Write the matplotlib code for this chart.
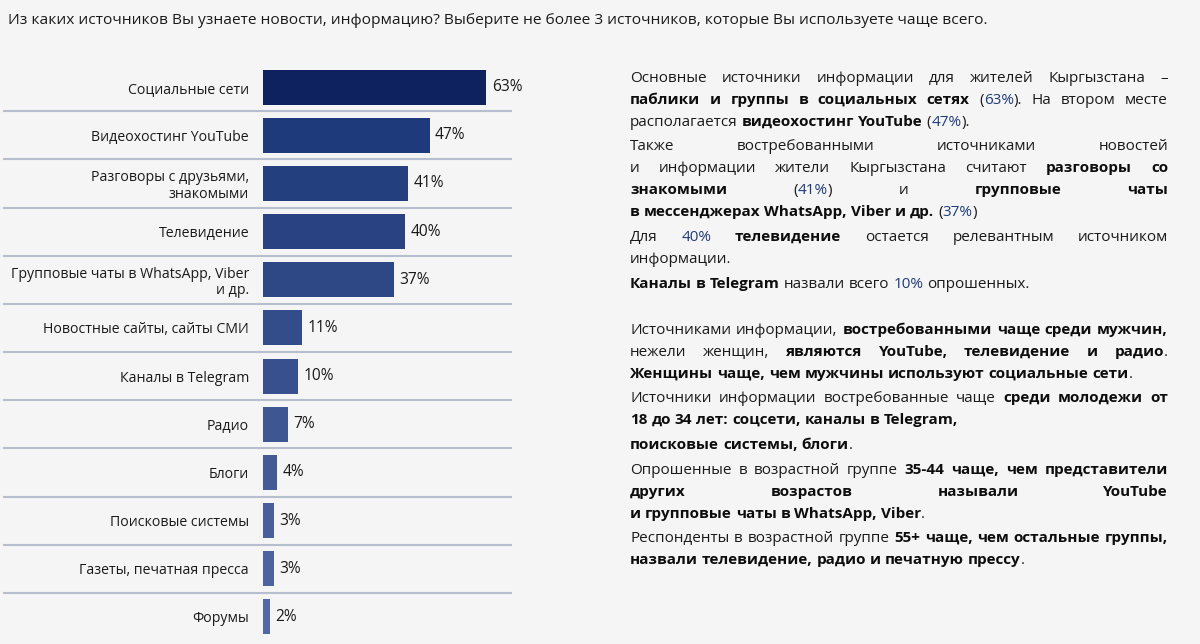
import matplotlib.pyplot as plt
import matplotlib.colors as mcolors
import numpy as np

# Chart data
categories = [
    "Социальные сети", "Видеохостинг YouTube", "Разговоры с друзьями,\nзнакомыми",
    "Телевидение", "Групповые чаты в WhatsApp, Viber\nи др.", "Новостные сайты, сайты СМИ",
    "Каналы в Telegram", "Радио", "Блоги", "Поисковые системы",
    "Газеты, печатная пресса", "Форумы",
]
values = [63, 47, 41, 40, 37, 11, 10, 7, 4, 3, 3, 2]

title = ("Из каких источников Вы узнаете новости, информацию? "
         "Выберите не более 3 источников, которые Вы используете чаще всего.")

# Commentary text: *bold*, #blue#; paragraphs of lines, None = section break
paragraphs = [
    ["Основные источники информации для жителей Кыргызстана –",
     "*паблики и группы в социальных сетях* (#63%#). На втором месте",
     "располагается *видеохостинг YouTube* (#47%#)."],
    ["Также востребованными источниками новостей",
     "и информации жители Кыргызстана считают *разговоры со*",
     "*знакомыми* (#41%#) и *групповые чаты*",
     "*в мессенджерах WhatsApp, Viber и др.* (#37%#)"],
    ["Для #40%# *телевидение* остается релевантным источником",
     "информации."],
    ["*Каналы в Telegram* назвали всего #10%# опрошенных."],
    None,
    ["Источниками информации, *востребованными чаще среди мужчин,*",
     "нежели женщин, *являются YouTube, телевидение и радио*.",
     "*Женщины чаще, чем мужчины используют социальные сети*."],
    ["Источники информации востребованные чаще *среди молодежи от*",
     "*18 до 34 лет: соцсети, каналы в Telegram,*"],
    ["*поисковые системы, блоги*."],
    ["Опрошенные в возрастной группе *35-44 чаще, чем представители*",
     "*других возрастов называли YouTube*",
     "*и групповые чаты в WhatsApp, Viber*."],
    ["Респонденты в возрастной группе *55+ чаще, чем остальные группы,*",
     "*назвали телевидение, радио и печатную прессу*."],
]

FONT = ["Open Sans", "DejaVu Sans"]
plt.rcParams["font.family"] = FONT
BG = "#f5f5f5"
TXT = "#1a1a1a"
NAVY = "#1f3a7a"

W, H = 1200, 644
fig = plt.figure(figsize=(W / 100, H / 100), dpi=100, facecolor=BG)

# Bar chart
ax = fig.add_axes([263 / W, 1 - 641 / H, 248 / W, 578 / H])
ax.set_facecolor(BG)
n = len(values)
y = np.arange(n)
c0 = np.array(mcolors.to_rgb("#1f3a7a"))
c1 = np.array(mcolors.to_rgb("#5268a2"))
bar_colors = ["#0e2260"] + [mcolors.to_hex(c0 + (c1 - c0) * t)
                            for t in np.linspace(0, 1, n - 1)]
bars = ax.barh(y, values, height=0.73, color=bar_colors)
ax.set_xlim(0, 70)
ax.set_ylim(n - 0.5, -0.5)
ax.set_yticks(y, categories, fontsize=10.2, color=TXT, linespacing=1.15)
ax.tick_params(axis="y", length=0, pad=10)
ax.set_xticks([])
for s in ax.spines.values():
    s.set_visible(False)
ax.bar_label(bars, labels=[f"{v}%" for v in values], padding=4,
             fontsize=11.2, color=TXT)
for i in range(n - 1):
    ax.plot([-73, 70], [i + 0.5, i + 0.5], color="#b5bfcf", lw=1.5,
            clip_on=False, zorder=0)

fig.text(8 / W, 1 - 20 / H, title, fontsize=11.15, color=TXT, va="center")

# Justified commentary block
renderer = fig.canvas.get_renderer()
FS = 11.0
X0, X1 = 630, 1168


def parse(line):
    words, cur = [], []
    bold = blue = False
    buf = ""
    for ch in line + " ":
        if ch in "*# ":
            if buf:
                cur.append((buf, bold, blue))
                buf = ""
            if ch == "*":
                bold = not bold
            elif ch == "#":
                blue = not blue
            else:
                if cur:
                    words.append(cur)
                cur = []
        else:
            buf += ch
    return words


def width(txt, bold):
    t = fig.text(0, 0, txt, fontsize=FS, fontweight="bold" if bold else "normal")
    w = t.get_window_extent(renderer).width
    t.remove()
    return w


space = width("x x", False) - width("xx", False)

ypos = 77
for p in paragraphs:
    if p is None:
        ypos += 22
        continue
    for k, line in enumerate(p):
        words = parse(line)
        ws = [[width(r[0], r[1]) for r in w] for w in words]
        tot = sum(sum(w) for w in ws)
        last = k == len(p) - 1
        gap = space if last or len(words) < 2 else (X1 - X0 - tot) / (len(words) - 1)
        x = X0
        for w, wl in zip(words, ws):
            for (txt, b, bl), rw in zip(w, wl):
                fig.text(x / W, 1 - round(ypos + 5) / H, txt, fontsize=FS,
                         fontweight="bold" if b else "normal",
                         color=NAVY if bl else ("#0d0d0d" if b else TXT),
                         va="baseline")
                x += rw
            x += gap
        ypos += 22
    ypos += 2.5

fig.savefig("out.png", dpi=100, facecolor=BG)
